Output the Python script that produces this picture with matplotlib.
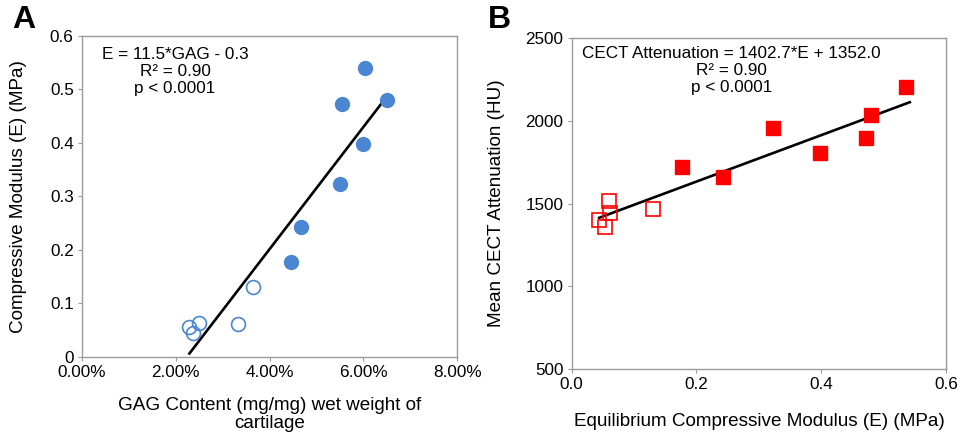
import matplotlib
matplotlib.use("Agg")
import matplotlib.pyplot as plt
from matplotlib.ticker import FuncFormatter

plt.rcParams['font.family'] = ['Liberation Sans', 'DejaVu Sans']

# ---- Panel A data ----
gag_filled = [0.0603, 0.0555, 0.0650, 0.0598, 0.0551, 0.0466, 0.0446]
e_filled = [0.541, 0.473, 0.481, 0.398, 0.323, 0.243, 0.177]
gag_open = [0.0364, 0.0333, 0.0250, 0.0228, 0.0237]
e_open = [0.130, 0.061, 0.063, 0.055, 0.044]
fitA_x = [0.0229, 0.0650]
fitA_y = [0.006, 0.487]
xticksA = [0, 0.02, 0.04, 0.06, 0.08]
yticksA = [0, 0.1, 0.2, 0.3, 0.4, 0.5, 0.6]
yticklabelsA = ['0', '0.1', '0.2', '0.3', '0.4', '0.5', '0.6']

# ---- Panel B data ----
eB_filled = [0.536, 0.479, 0.471, 0.398, 0.322, 0.242, 0.176]
hu_filled = [2201, 2034, 1896, 1803, 1954, 1659, 1719]
eB_open = [0.130, 0.060, 0.062, 0.044, 0.054]
hu_open = [1464, 1514, 1442, 1402, 1357]
slopeB = 1402.7
interceptB = 1352.0
fitB_x = [0.044, 0.542]
xticksB = [0.0, 0.2, 0.4, 0.6]
yticksB = [500, 1000, 1500, 2000, 2500]

blue = '#4A86D2'
red = '#FF0000'
spine_col = '#9A9A9A'
tfs = 12.3
lfs = 13.6
afs = 12.3

fig = plt.figure(figsize=(9.58, 4.36), dpi=100)
axA = fig.add_axes([0.0856, 0.1819, 0.4773 - 0.0856, 0.9174 - 0.1819])
axB = fig.add_axes([0.5968, 0.1537, 0.9875 - 0.5968, 0.9128 - 0.1537])

for ax in (axA, axB):
    for s in ax.spines.values():
        s.set_color(spine_col)
        s.set_linewidth(1.0)
    ax.tick_params(direction='out', length=3, color=spine_col, labelsize=tfs, pad=3)
    ax.tick_params(axis='x', top=False)
    ax.tick_params(axis='y', right=False)

# Panel A
axA.plot(fitA_x, fitA_y, color='black', lw=1.9, zorder=2)
axA.plot(gag_filled, e_filled, 'o', ms=10, color=blue, mec=blue, zorder=3)
axA.plot(gag_open, e_open, 'o', ms=10, mfc='none', mec=blue, mew=1.2, zorder=3)
axA.set_xlim(0, 0.08)
axA.set_ylim(0, 0.6)
axA.set_xticks(xticksA)
axA.xaxis.set_major_formatter(FuncFormatter(lambda v, p: f"{v*100:.2f}%"))
axA.set_yticks(yticksA)
axA.set_yticklabels(yticklabelsA)
axA.set_xlabel("GAG Content (mg/mg) wet weight of\ncartilage", fontsize=lfs, linespacing=1.1)
axA.xaxis.set_label_coords(0.5, -0.126)
axA.set_ylabel("Compressive Modulus (E) (MPa)", fontsize=lfs)
axA.yaxis.set_label_coords(-0.168, 0.5)
axA.yaxis.label.set_va('center')
axA.text(0.248, 0.965, "E = 11.5*GAG - 0.3\nR² = 0.90\np < 0.0001", transform=axA.transAxes,
         ha='center', va='top', multialignment='center', fontsize=afs, linespacing=1.15)
fig.text(0.025, 0.955, "A", fontsize=23, fontweight='bold', ha='center', va='center')

# Panel B
fitB_y = [slopeB * x + interceptB for x in fitB_x]
axB.plot(fitB_x, fitB_y, color='black', lw=1.9, zorder=2)
axB.plot(eB_filled, hu_filled, 's', ms=9.5, color=red, mec=red, zorder=3)
axB.plot(eB_open, hu_open, 's', ms=9.5, mfc='none', mec=red, mew=1.2, zorder=3)
axB.set_xlim(0, 0.6)
axB.set_ylim(500, 2500)
axB.set_xticks(xticksB)
axB.set_xticklabels([f"{v:.1f}" for v in xticksB])
axB.set_yticks(yticksB)
axB.set_xlabel("Equilibrium Compressive Modulus (E) (MPa)", fontsize=lfs)
axB.xaxis.set_label_coords(0.5, -0.133)
axB.set_ylabel("Mean CECT Attenuation (HU)", fontsize=lfs)
axB.yaxis.set_label_coords(-0.2, 0.5)
axB.yaxis.label.set_va('center')
axB.text(0.426, 0.975, "CECT Attenuation = 1402.7*E + 1352.0\nR² = 0.90\np < 0.0001", transform=axB.transAxes,
         ha='center', va='top', multialignment='center', fontsize=afs, linespacing=1.15)
fig.text(0.521, 0.955, "B", fontsize=23, fontweight='bold', ha='center', va='center')

fig.savefig("out.png", dpi=100)
